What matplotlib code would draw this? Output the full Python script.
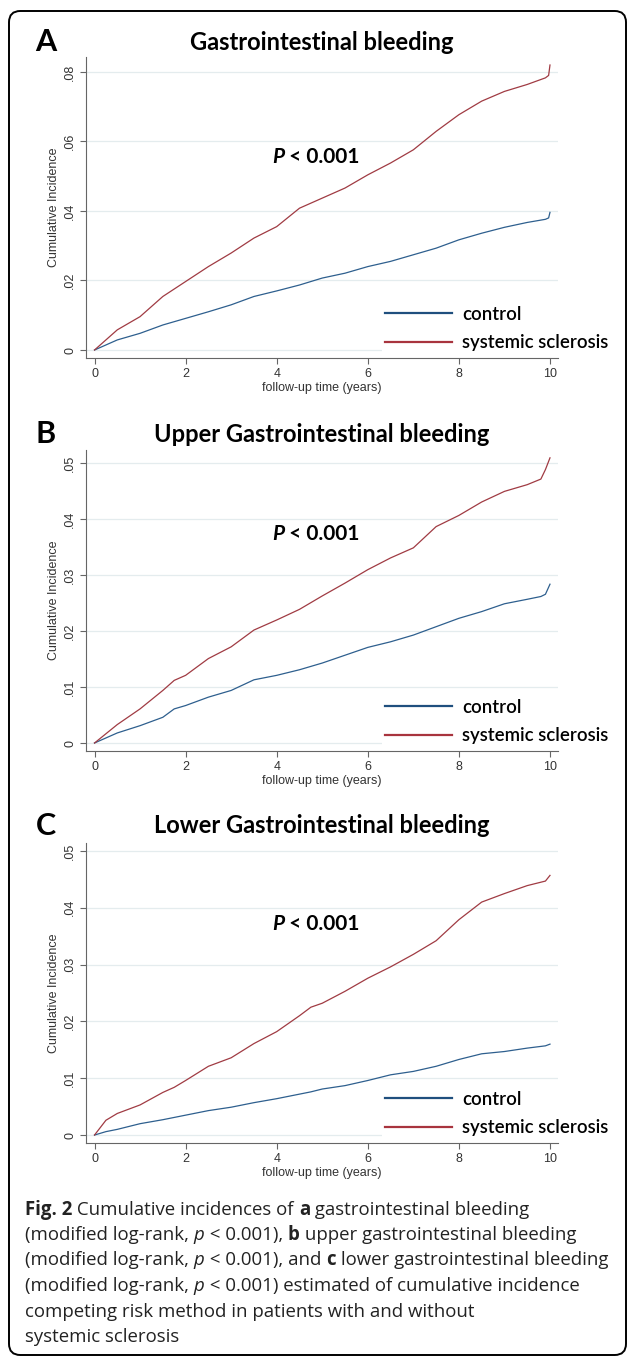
import matplotlib
matplotlib.use("Agg")
import matplotlib.pyplot as plt
from matplotlib.patches import FancyBboxPatch

# ---- data ----
a_time = [0, 0.5, 1, 1.5, 2, 2.5, 3, 3.5, 4, 4.5, 5, 5.5, 6, 6.5, 7, 7.5,
          8, 8.5, 9, 9.5, 9.9, 9.97, 10]
a_ssc = [0, .0058, .0096, .0154, .0197, .024, .0279, .0322, .0355, .0408,
         .0437, .0466, .0504, .0538, .0576, .0629, .0677, .0716, .0744,
         .0764, .0783, .0790, .082]
a_ctrl = [0, .0029, .0048, .0072, .0091, .011, .013, .0154, .017, .0187,
          .0207, .0221, .024, .0255, .0274, .0293, .0317, .0336, .0353,
          .0367, .0376, .0380, .0396]

b_time = [0, 0.5, 1, 1.5, 1.75, 2, 2.5, 3, 3.5, 4, 4.5, 5, 5.5, 6, 6.5, 7,
          7.5, 8, 8.5, 9, 9.5, 9.8, 9.9, 10]
b_ssc = [0, .0033, .0061, .0094, .0112, .0121, .0151, .0172, .0202, .022,
         .0239, .0263, .0286, .031, .0331, .0349, .0387, .0407, .0431, .045,
         .0462, .0472, .0489, .051]
b_ctrl = [0, .0018, .0031, .0046, .0061, .0067, .0082, .0094, .0113, .0121,
          .0131, .0143, .0157, .0171, .0181, .0193, .0208, .0223, .0235,
          .0249, .0257, .0262, .0266, .0284]

c_time = [0, 0.25, 0.5, 1, 1.5, 1.75, 2, 2.5, 3, 3.5, 4, 4.5, 4.75, 5, 5.5,
          6, 6.5, 7, 7.5, 8, 8.5, 9, 9.5, 9.9, 10]
c_ssc = [0, .0026, .0038, .0053, .0075, .0084, .0096, .0121, .0136, .0161,
         .0182, .021, .0225, .0232, .0253, .0276, .0296, .0318, .0342, .0379,
         .041, .0425, .0439, .0447, .0457]
c_ctrl = [0, .0006, .001, .002, .0027, .0031, .0035, .0043, .0049, .0057,
          .0064, .0072, .0076, .0081, .0087, .0096, .0106, .0112, .0121,
          .0133, .0143, .0147, .0153, .0157, .016]

panel_letters = ["A", "B", "C"]
panel_titles = ["Gastrointestinal bleeding", "Upper Gastrointestinal bleeding",
                "Lower Gastrointestinal bleeding"]
series_labels = ["control", "systemic sclerosis"]
x_ticks = [0, 2, 4, 6, 8, 10]
y_ticks_a = [0, .02, .04, .06, .08]
y_ticks_bc = [0, .01, .02, .03, .04, .05]

W, H = 627, 1358
BLUE = "#2e5f8e"
RED = "#a03b43"
GRID = "#e4ecee"
SPINE = "#666666"
TICKTXT = "#333333"
TITLE_FONT = ["Lato", "DejaVu Sans"]
CAP_FONT = ["Open Sans", "DejaVu Sans"]
AX_FONT = ["Liberation Sans", "DejaVu Sans"]


def fx(x):
    return x / W


def fy(y):
    return 1 - y / H


def tick_fmt(v):
    if v == 0:
        return "0"
    return ("%.2f" % v).lstrip("0")


def draw_segments(fig, x, y, segments, size, family, color="black"):
    # write pieces of text with different styles one after the other
    renderer = fig.canvas.get_renderer()
    cur = x
    for txt, weight, style in segments:
        t = fig.text(fx(cur), fy(y), txt, fontsize=size, family=family,
                     fontweight=weight, fontstyle=style, ha="left",
                     va="center", color=color)
        bb = t.get_window_extent(renderer)
        cur += bb.width


fig = plt.figure(figsize=(W / 100, H / 100), dpi=100)

# rounded frame around the whole figure
frame = FancyBboxPatch((fx(9), fy(1355)), fx(626) - fx(9), fy(11) - fy(1355),
                       boxstyle="round,pad=0,rounding_size=0.018",
                       transform=fig.transFigure, fill=False, lw=1.4,
                       ec="black", mutation_aspect=W / H)
fig.patches.append(frame)

panels = [
    dict(time=a_time, ssc=a_ssc, ctrl=a_ctrl, top=57, bottom=358,
         ylim=(-0.0023, 0.0843), yticks=y_ticks_a, title_y=42, p_y=157,
         leg_y=(313, 344)),
    dict(time=b_time, ssc=b_ssc, ctrl=b_ctrl, top=450, bottom=751,
         ylim=(-0.00143, 0.0524), yticks=y_ticks_bc, title_y=434, p_y=534,
         leg_y=(706, 737)),
    dict(time=c_time, ssc=c_ssc, ctrl=c_ctrl, top=843, bottom=1143,
         ylim=(-0.0014, 0.0514), yticks=y_ticks_bc, title_y=826, p_y=924,
         leg_y=(1099, 1128)),
]

left, right = 86, 558
for i, p in enumerate(panels):
    ax = fig.add_axes([fx(left), fy(p["bottom"]), fx(right) - fx(left),
                       fy(p["top"]) - fy(p["bottom"])])
    ax.plot(p["time"], p["ctrl"], color=BLUE, lw=0.9, label=series_labels[0])
    ax.plot(p["time"], p["ssc"], color=RED, lw=0.9, label=series_labels[1])
    ax.set_xlim(-0.187, 10.176)
    ax.set_ylim(*p["ylim"])
    ax.set_xticks(x_ticks)
    ax.set_yticks(p["yticks"])
    ax.set_yticklabels([tick_fmt(v) for v in p["yticks"]], rotation=90,
                       va="center")
    ax.grid(axis="y", color=GRID, lw=0.9)
    ax.set_axisbelow(True)
    for s in ["top", "right"]:
        ax.spines[s].set_visible(False)
    for s in ["left", "bottom"]:
        ax.spines[s].set_color(SPINE)
        ax.spines[s].set_linewidth(0.8)
    ax.tick_params(length=4, width=0.8, color=SPINE, labelsize=9,
                   labelcolor=TICKTXT, pad=3)
    for lab in ax.get_xticklabels() + ax.get_yticklabels():
        lab.set_family(AX_FONT)
    ax.set_xlabel("follow-up time (years)", fontsize=9, family=AX_FONT,
                  color=TICKTXT, labelpad=1.5)
    ax.set_ylabel("Cumulative Incidence", fontsize=9, family=AX_FONT,
                  color=TICKTXT, labelpad=3)

    # legend placed lower right, as in the reference
    mid = (p["leg_y"][0] + p["leg_y"][1]) / 2
    ax_h = p["bottom"] - p["top"]
    leg = ax.legend(loc="center left",
                    bbox_to_anchor=((382 - left) / (right - left),
                                    (p["bottom"] - mid) / ax_h),
                    frameon=True, framealpha=1, edgecolor="none",
                    facecolor="white", fancybox=False, borderpad=0.15,
                    borderaxespad=0, handlelength=3.6, handletextpad=0.55,
                    labelspacing=0.6, prop=dict(family=TITLE_FONT,
                                                weight="semibold", size=13.4))
    for line in leg.get_lines():
        line.set_linewidth(1.6)
    leg.get_lines()[0].set_color("#1f4f7e")
    leg.get_lines()[1].set_color("#a8343e")

    fig.text(fx(46), fy(p["title_y"]), panel_letters[i], fontsize=22,
             fontweight="bold", family=TITLE_FONT, ha="center", va="center")
    fig.text(fx(322), fy(p["title_y"]), panel_titles[i], fontsize=17,
             fontweight="bold", family=TITLE_FONT, ha="center", va="center")
    draw_segments(fig, 272, p["p_y"],
                  [("P", "bold", "italic"), (" < 0.001", "bold", "normal")],
                  15, TITLE_FONT)

# caption
caption_lines = [
    [("Fig. 2", "bold", "normal"), (" Cumulative incidences of ", "normal", "normal"),
     ("a", "bold", "normal"), (" gastrointestinal bleeding", "normal", "normal")],
    [("(modified log-rank, ", "normal", "normal"), ("p", "normal", "italic"),
     (" < 0.001), ", "normal", "normal"), ("b", "bold", "normal"),
     (" upper gastrointestinal bleeding", "normal", "normal")],
    [("(modified log-rank, ", "normal", "normal"), ("p", "normal", "italic"),
     (" < 0.001), and ", "normal", "normal"), ("c", "bold", "normal"),
     (" lower gastrointestinal bleeding", "normal", "normal")],
    [("(modified log-rank, ", "normal", "normal"), ("p", "normal", "italic"),
     (" < 0.001) estimated of cumulative incidence", "normal", "normal")],
    [("competing risk method in patients with and without", "normal", "normal")],
    [("systemic sclerosis", "normal", "normal")],
]
caption_y = [1210, 1235, 1260, 1286, 1312, 1337]
for segs, yy in zip(caption_lines, caption_y):
    draw_segments(fig, 25, yy, segs, 13.4, CAP_FONT, color="#222222")

fig.savefig("out.png", dpi=100)
